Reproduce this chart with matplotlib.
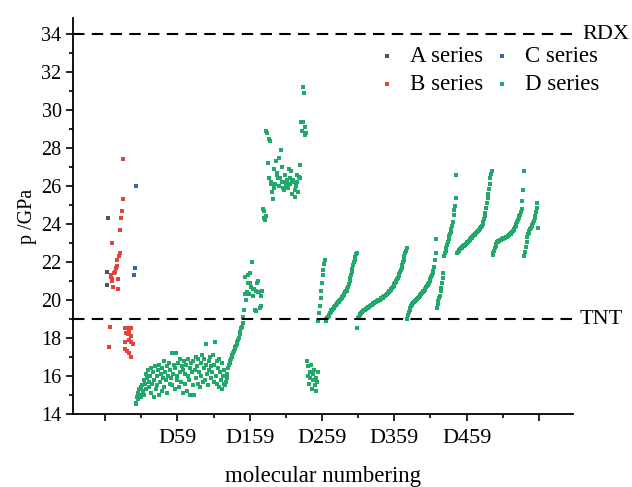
import numpy as np
import matplotlib
matplotlib.use('Agg')
import matplotlib.pyplot as plt
import matplotlib.transforms as mtransforms
from matplotlib.ticker import MultipleLocator

plt.rcParams['font.family'] = ['Liberation Serif', 'DejaVu Serif']

# position on the x axis = running molecule number (D1 sits at 42)
a_x = [2, 3, 4]
a_p = [20.8, 21.5, 24.3]

b_x = [8, 8, 9, 10, 10, 11, 12, 13, 15, 16, 17, 18, 18, 19, 20, 21, 22, 23, 24, 25,
       5, 6, 27, 28, 28, 29, 30, 30, 31, 33, 33, 33, 35, 35, 36, 36, 38]
b_p = [21.3, 21.2, 21.0, 23.0, 21.1, 20.7, 21.4, 21.5, 21.7, 21.8, 22.1, 20.6, 21.1, 22.3, 22.5,
       23.7, 24.3, 24.7, 25.3, 27.4,
       17.5, 18.6, 17.8, 18.5, 17.4, 18.25, 18.5, 17.3, 18.2, 18.3, 17.9, 17.2, 17.8, 18.5,
       18.1, 17.0, 17.7]

c_x = [40, 41, 43]
c_p = [21.3, 21.7, 26.0]

# D series, molecule by molecule
d_cloud = [14.5, 14.6, 14.9, 15.1, 14.8, 15.3, 15.0, 15.4, 14.9, 15.5,
           15.2, 15.8, 15.0, 15.6, 16.1, 15.3, 15.9, 16.3, 15.4, 15.7,
           16.0, 15.1, 16.4, 15.6, 16.2, 14.9, 15.8, 16.5, 15.3, 16.0,
           15.5, 16.3, 15.0, 16.6, 15.7, 16.1, 15.2, 16.4, 15.9, 16.8,
           15.4, 16.2, 15.8, 16.5, 15.1, 16.0, 16.7, 15.6, 16.3, 15.9,
           17.2, 15.5, 16.1, 16.6, 15.3, 16.4, 17.2, 15.8, 16.0, 16.7,
           15.4, 16.2, 16.9, 15.7, 16.5, 15.1, 16.3, 16.8, 15.6, 16.1,
           16.6, 15.2, 16.0, 16.9, 15.8, 16.4, 15.0, 16.7, 16.2, 15.5,
           16.8, 15.0, 16.3, 17.0, 15.9, 16.5, 15.6, 16.9, 16.2, 15.4,
           16.7, 16.0, 17.1, 15.7, 16.4, 16.9, 15.8, 16.6, 17.7, 16.1,
           15.5, 16.8, 16.3, 17.0, 15.9, 16.5, 16.2, 17.1, 15.7, 16.6,
           17.8, 16.0, 16.8, 15.6, 16.4, 16.9, 15.4, 16.2, 15.8, 16.7,
           15.3, 16.0, 15.6, 16.3, 15.5]
d_rise = [15.7, 15.9, 16.1, 16.4, 16.6, 16.7, 16.8, 16.9, 17.0, 17.1,
          17.2, 17.3, 17.4, 17.5, 17.6, 17.7, 17.8, 17.9, 18.0, 18.2,
          18.3, 18.5, 18.6, 18.8, 19.1]
d_group159 = [19.5, 20.3, 21.2, 20.0, 20.4, 20.9, 21.3, 20.3, 20.9, 21.4,
              20.7, 22.0, 20.6, 20.2, 20.6, 19.5, 20.5, 19.4, 20.9, 20.4,
              21.0, 20.4, 19.6, 20.2, 19.7, 20.5]
d_high = [24.8, 24.7, 24.3, 24.2, 24.4,
          28.9, 28.8, 27.2, 28.5, 26.4, 28.4, 26.1, 26.2, 25.7, 25.3,
          25.9, 26.9, 26.1, 27.3, 26.6, 26.7, 26.4, 26.0, 27.5, 26.4,
          27.9, 26.2, 27.0, 25.9, 26.2, 25.8, 26.6, 26.1, 26.0, 26.3,
          25.9, 26.9, 26.4, 26.1, 26.8, 26.3, 25.6, 26.3, 26.2, 25.8,
          25.4, 26.0, 26.6, 26.2, 25.7, 26.5, 27.1, 26.4,
          29.4, 28.9, 31.2, 29.4, 30.9, 28.7, 29.1, 28.8]
d_low = [16.8, 16.0, 16.5, 15.6, 16.2, 15.9, 16.6, 15.3, 16.1, 15.8,
         16.3, 15.5, 15.9, 15.2, 15.7, 16.2]
d_run1 = [18.9, 19.3, 19.7, 20.1, 20.5, 20.9, 21.3, 21.6, 21.9, 22.1]
d_run2 = [18.9, 19.0, 19.05, 19.1, 19.15, 19.2, 19.3, 19.35, 19.45, 19.5,
          19.55, 19.6, 19.65, 19.7, 19.75, 19.8, 19.85, 19.9, 19.9, 19.95,
          20.0, 20.05, 20.1, 20.15, 20.2, 20.25, 20.3, 20.4, 20.45, 20.5,
          20.6, 20.7, 20.85, 21.0, 21.15, 21.3, 21.5, 21.65, 21.85, 22.0,
          22.1, 22.25, 22.4, 22.5]
d_run3 = [18.5, 19.05, 19.1, 19.2, 19.25, 19.3, 19.35, 19.4, 19.42, 19.45,
          19.48, 19.5, 19.55, 19.57, 19.6, 19.62, 19.65, 19.68, 19.7, 19.73,
          19.76, 19.8, 19.83, 19.85, 19.87, 19.9, 19.92, 19.94, 19.96, 19.98,
          20.0, 20.02, 20.05, 20.08, 20.1, 20.13, 20.16, 20.19, 20.22, 20.25,
          20.28, 20.32, 20.36, 20.4, 20.45, 20.5, 20.55, 20.6, 20.65, 20.7,
          20.76, 20.82, 20.88, 20.95, 21.02, 21.1, 21.18, 21.26, 21.35, 21.45,
          21.56, 21.7, 21.84, 21.98, 22.12, 22.3, 22.45, 22.6, 22.72]
d_run4 = [19.0, 19.2, 19.35, 19.5, 19.6, 19.7, 19.75, 19.8, 19.85, 19.9,
          19.93, 19.96, 20.0, 20.03, 20.07, 20.1, 20.15, 20.2, 20.25, 20.3,
          20.35, 20.4, 20.45, 20.5, 20.55, 20.6, 20.66, 20.72, 20.78, 20.85,
          20.92, 21.0, 21.1, 21.2, 21.3, 21.42, 21.55, 21.75, 22.1, 22.5, 23.2]
d_run5 = [19.6, 19.8, 19.95, 20.1, 20.2, 20.45, 20.65, 20.9, 21.15, 21.4,
          22.3, 22.45, 22.6, 22.75, 22.9, 23.05, 23.2, 23.35, 23.45, 23.6,
          23.75, 23.9, 24.1, 24.5, 24.75, 24.95, 25.35, 26.6]
d_run6 = [22.5, 22.55, 22.6, 22.65, 22.7, 22.73, 22.76, 22.8, 22.83, 22.86,
          22.89, 22.92, 22.96, 23.0, 23.04, 23.08, 23.12, 23.16, 23.2, 23.24,
          23.28, 23.32, 23.36, 23.4, 23.44, 23.48, 23.52, 23.56, 23.6, 23.65,
          23.7, 23.75, 23.8, 23.86, 23.92, 24.0, 24.1, 24.25, 24.4, 24.6,
          24.85, 25.1, 25.35, 25.6, 25.85, 26.1, 26.4, 26.65, 26.8]
d_run7 = [22.35, 22.5, 22.6, 22.72, 22.85, 22.95, 23.05, 23.08, 23.1, 23.12,
          23.14, 23.16, 23.18, 23.2, 23.22, 23.24, 23.26, 23.28, 23.3, 23.32,
          23.34, 23.37, 23.4, 23.43, 23.46, 23.5, 23.53, 23.57, 23.62, 23.68,
          23.75, 23.83, 23.92, 24.0, 24.1, 24.2, 24.3, 24.4, 24.5, 24.62,
          24.8, 25.2, 25.8, 26.8]
d_run8 = [22.3, 22.55, 22.8, 23.05, 23.3, 23.45, 23.55, 23.65, 23.72, 23.8,
          23.88, 23.96, 24.05, 24.15, 24.3, 24.45, 24.65, 24.85, 25.1, 23.8]

d_p = (d_cloud + d_rise + d_group159 + d_high + d_low + d_run1 + d_run2
       + d_run3 + d_run4 + d_run5 + d_run6 + d_run7 + d_run8)
d_x = np.arange(len(d_p)) + 42

x_ticks = [0, 100, 200, 300, 400, 500, 600]
x_tick_labels = ['', 'D59', 'D159', 'D259', 'D359', 'D459', '']
p_tnt = 19
p_rdx = 34


def main():
    fig = plt.figure(figsize=(6.32, 4.87), dpi=100)
    ax = fig.add_axes([0.115, 0.150, 0.792, 0.813])

    ms = 7
    ha = ax.scatter(a_x, a_p, s=ms, marker='s', color='#555555', linewidths=0, label='A series')
    hb = ax.scatter(b_x, b_p, s=ms, marker='s', color='#e8403c', linewidths=0, label='B series')
    hc = ax.scatter(c_x, c_p, s=ms, marker='s', color='#3562b0', linewidths=0, label='C series')
    hd = ax.scatter(d_x, d_p, s=ms, marker='s', color='#22a86a', linewidths=0, label='D series')

    for p in (p_rdx, p_tnt):
        ax.axhline(p, color='black', lw=1.5, ls=(0, (5.5, 3.5)))
    trans = mtransforms.blended_transform_factory(ax.transAxes, ax.transData)
    ax.text(1.018, p_rdx, 'RDX', transform=trans, ha='left', va='center', fontsize=16)
    ax.text(1.013, p_tnt, 'TNT', transform=trans, ha='left', va='center', fontsize=16)

    ax.set_xlim(-45, 647.5)
    ax.set_ylim(14, 34.85)
    ax.set_xticks(x_ticks)
    ax.set_xticklabels(x_tick_labels, fontsize=16)
    ax.xaxis.set_minor_locator(MultipleLocator(100, offset=50))
    ax.yaxis.set_major_locator(MultipleLocator(2))
    ax.yaxis.set_minor_locator(MultipleLocator(1))
    ax.tick_params(axis='y', labelsize=14.5)
    ax.tick_params(which='major', direction='out', length=5, width=1.2, pad=3)
    ax.tick_params(axis='x', which='major', pad=6)
    ax.tick_params(which='minor', direction='out', length=3, width=1.2)

    for side in ('top', 'right'):
        ax.spines[side].set_visible(False)
    for side in ('left', 'bottom'):
        ax.spines[side].set_linewidth(1.3)

    ax.set_xlabel('molecular numbering', fontsize=16.5, labelpad=13)
    ax.set_ylabel('p /GPa', fontsize=14.5, labelpad=3)

    fig.legend([ha, hb, hc, hd], ['A series', 'B series', 'C series', 'D series'],
               ncol=2, loc='upper left', bbox_to_anchor=(0.595, 0.905),
               frameon=False, fontsize=16.5, handlelength=1.0, handletextpad=0.5,
               columnspacing=0.3, labelspacing=0.28, borderpad=0, borderaxespad=0,
               scatterpoints=1)

    fig.savefig('out.png', dpi=100)


if __name__ == '__main__':
    main()
